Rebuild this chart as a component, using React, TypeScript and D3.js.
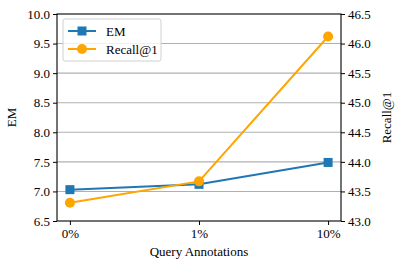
import React, { useEffect, useRef } from 'react';
import * as d3 from 'd3';

const categories = ['0%', '1%', '10%'];
const emValues = [7.03, 7.12, 7.49];
const recallValues = [43.31, 43.67, 46.12];
const leftTicks = [6.5, 7.0, 7.5, 8.0, 8.5, 9.0, 9.5, 10.0];
const rightTicks = [43.0, 43.5, 44.0, 44.5, 45.0, 45.5, 46.0, 46.5];

const BLUE = '#1f77b4';
const ORANGE = '#ffa500';
const FONT = '"Liberation Serif", "Times New Roman", serif';

const App: React.FC = () => {
  const svgRef = useRef<SVGSVGElement>(null);

  useEffect(() => {
    if (!svgRef.current) return;
    const W = 398, H = 268;
    const margin = { top: 14, right: 57, bottom: 47, left: 57 };
    const width = W - margin.left - margin.right;
    const height = H - margin.top - margin.bottom;

    const svg = d3.select(svgRef.current);
    svg.selectAll('*').remove();
    svg.attr('width', W).attr('height', H)
      .style('font-family', FONT).style('font-size', '13px');

    const g = svg.append('g').attr('transform', `translate(${margin.left},${margin.top})`);

    const x = d3.scaleLinear().domain([-0.1, 2.1]).range([0, width]);
    const yL = d3.scaleLinear().domain([6.5, 10.0]).range([height, 0]);
    const yR = d3.scaleLinear().domain([43.0, 46.5]).range([height, 0]);

    // grid
    g.selectAll('line.grid')
      .data(leftTicks.filter(t => t > 6.5 && t < 10))
      .enter()
      .append('line')
      .attr('x1', 0).attr('x2', width)
      .attr('y1', d => yL(d)).attr('y2', d => yL(d))
      .attr('stroke', '#b0b0b0')
      .attr('stroke-width', 1.1);

    const styleAxis = (sel: any) => {
      sel.attr('font-family', null).attr('font-size', null);
      sel.select('.domain').remove();
      sel.selectAll('text')
        .attr('font-family', FONT)
        .style('font-family', FONT)
        .style('font-size', '13px')
        .style('fill', '#000');
      sel.selectAll('line').attr('stroke', '#000');
    };

    g.append('g')
      .call(d3.axisLeft(yL).tickValues(leftTicks).tickFormat(d3.format('.1f')).tickSize(4).tickPadding(3))
      .call(styleAxis);

    g.append('g')
      .attr('transform', `translate(${width},0)`)
      .call(d3.axisRight(yR).tickValues(rightTicks).tickFormat(d3.format('.1f')).tickSize(4).tickPadding(3))
      .call(styleAxis);

    g.append('g')
      .attr('transform', `translate(0,${height})`)
      .call(d3.axisBottom(x).tickValues([0, 1, 2]).tickFormat((d: any) => categories[d]).tickSize(4).tickPadding(4))
      .call(styleAxis);

    // frame
    g.append('rect')
      .attr('width', width).attr('height', height)
      .attr('fill', 'none').attr('stroke', '#000').attr('stroke-width', 1.1);

    const lineL = d3.line<number>().x((_, i) => x(i)).y(d => yL(d));
    const lineR = d3.line<number>().x((_, i) => x(i)).y(d => yR(d));

    g.append('path').datum(emValues).attr('d', lineL)
      .attr('fill', 'none').attr('stroke', BLUE).attr('stroke-width', 2);
    g.selectAll('rect.em').data(emValues).enter().append('rect')
      .attr('x', (_, i) => x(i) - 4.5).attr('y', d => yL(d) - 4.5)
      .attr('width', 9).attr('height', 9).attr('fill', BLUE);

    g.append('path').datum(recallValues).attr('d', lineR)
      .attr('fill', 'none').attr('stroke', ORANGE).attr('stroke-width', 2);
    g.selectAll('circle.rc').data(recallValues).enter().append('circle')
      .attr('cx', (_, i) => x(i)).attr('cy', d => yR(d))
      .attr('r', 5).attr('fill', ORANGE);

    // legend
    const lg = g.append('g').attr('transform', 'translate(6,5)');
    lg.append('rect').attr('width', 98).attr('height', 42).attr('rx', 2)
      .attr('fill', 'white').attr('fill-opacity', 0.8)
      .attr('stroke', '#d0d0d0').attr('stroke-width', 1);
    const items = [
      { label: 'EM', color: BLUE, shape: 'square' },
      { label: 'Recall@1', color: ORANGE, shape: 'circle' },
    ];
    items.forEach((it, i) => {
      const yy = 12 + i * 18;
      lg.append('line').attr('x1', 5).attr('x2', 33).attr('y1', yy).attr('y2', yy)
        .attr('stroke', it.color).attr('stroke-width', 2);
      if (it.shape === 'square') {
        lg.append('rect').attr('x', 19 - 4.5).attr('y', yy - 4.5).attr('width', 9).attr('height', 9).attr('fill', it.color);
      } else {
        lg.append('circle').attr('cx', 19).attr('cy', yy).attr('r', 5).attr('fill', it.color);
      }
      lg.append('text').attr('x', 43).attr('y', yy).attr('dy', '0.35em')
        .style('font-family', FONT).style('font-size', '13px').text(it.label);
    });

    // axis labels
    svg.append('text')
      .attr('transform', `translate(16,${margin.top + height / 2}) rotate(-90)`)
      .attr('text-anchor', 'middle')
      .style('font-family', FONT).style('font-size', '13px').text('EM');
    svg.append('text')
      .attr('transform', `translate(391,${margin.top + height / 2}) rotate(-90)`)
      .attr('text-anchor', 'middle')
      .style('font-family', FONT).style('font-size', '13px').text('Recall@1');
    svg.append('text')
      .attr('x', margin.left + width / 2).attr('y', 256)
      .attr('text-anchor', 'middle')
      .style('font-family', FONT).style('font-size', '13px').text('Query Annotations');
  }, []);

  return (
    <div style={{ position: 'absolute', left: 0, top: 0 }}>
      <svg ref={svgRef} style={{ display: 'block' }}></svg>
    </div>
  );
};

export default App;
